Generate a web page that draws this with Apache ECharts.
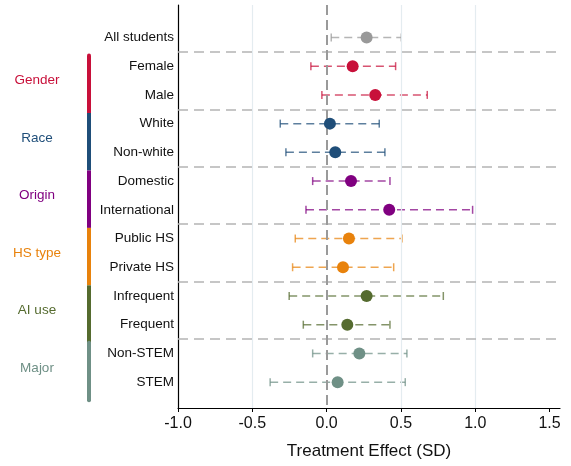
<!DOCTYPE html>
<html>
<head>
<meta charset="utf-8">
<script src="https://cdn.jsdelivr.net/npm/echarts@6/dist/echarts.min.js"></script>
<style>
  html, body { margin: 0; padding: 0; background: #ffffff; }
  #chart { width: 571px; height: 466px; }
</style>
</head>
<body>
<div id="chart"></div>
<script>
// Subgroup treatment effects (in SD units) with 95% confidence intervals
const categories = ['All students', 'Female', 'Male', 'White', 'Non-white', 'Domestic', 'International',
  'Public HS', 'Private HS', 'Infrequent', 'Frequent', 'Non-STEM', 'STEM'];
const estimates = [0.269, 0.175, 0.327, 0.022, 0.058, 0.164, 0.421, 0.150, 0.110, 0.269, 0.139, 0.220, 0.074];
const ciLow = [0.031, -0.106, -0.032, -0.312, -0.274, -0.094, -0.139, -0.211, -0.229, -0.252, -0.157, -0.094, -0.380];
const ciHigh = [0.502, 0.464, 0.677, 0.354, 0.392, 0.426, 0.982, 0.507, 0.451, 0.785, 0.426, 0.540, 0.529];
// group of each row; -1 marks the pooled estimate
const rowGroup = [-1, 0, 0, 1, 1, 2, 2, 3, 3, 4, 4, 5, 5];
const groupNames = ['Gender', 'Race', 'Origin', 'HS type', 'AI use', 'Major'];
const groupColors = ['#c8103a', '#1f4e79', '#800080', '#e8820c', '#556b2f', '#6f9086'];
const pooledColor = '#999999';
const xTicks = [-1.0, -0.5, 0.0, 0.5, 1.0, 1.5];
const gridLines = [-0.5, 0.5, 1.0];
const separators = [0.5, 2.5, 4.5, 6.5, 8.5, 10.5];

const FONT = '"Liberation Sans", Arial, Helvetica, sans-serif';

function rowColor(i) {
  return rowGroup[i] < 0 ? pooledColor : groupColors[rowGroup[i]];
}

// first and last row of every group
const groupSpans = groupNames.map((name, k) => {
  const rows = rowGroup.map((g, i) => (g === k ? i : -1)).filter(i => i >= 0);
  return [rows[0], rows[rows.length - 1], k];
});

const chart = echarts.init(document.getElementById('chart'), null, { renderer: 'canvas' });

const option = {
  animation: false,
  backgroundColor: '#ffffff',
  grid: { left: 178, right: 11, top: 5, bottom: 58, containLabel: false },
  xAxis: {
    type: 'value',
    min: -1.0,
    max: 1.57,
    splitLine: { show: false },
    axisLine: { show: true, onZero: false, lineStyle: { color: '#000', width: 1.2 } },
    axisTick: { show: true, customValues: xTicks, length: 4, lineStyle: { color: '#000', width: 1 } },
    axisLabel: {
      customValues: xTicks,
      formatter: v => v.toFixed(1),
      fontFamily: FONT, fontSize: 16, color: '#111', margin: 8
    },
    name: 'Treatment Effect (SD)',
    nameLocation: 'middle',
    nameGap: 35,
    nameTextStyle: { fontFamily: FONT, fontSize: 17, color: '#111' }
  },
  yAxis: {
    type: 'value',
    inverse: true,
    min: -1.13,
    max: 12.9,
    splitLine: { show: false },
    axisLine: { show: true, onZero: false, lineStyle: { color: '#000', width: 1.2 } },
    axisTick: { show: false },
    axisLabel: {
      customValues: categories.map((c, i) => i),
      formatter: v => categories[Math.round(v)] || '',
      fontFamily: FONT, fontSize: 13.5, color: '#111', margin: 4
    }
  },
  series: [
    {
      // reference lines: light grid, zero line, group separators
      type: 'scatter',
      data: [],
      silent: true,
      markLine: {
        silent: true,
        symbol: ['none', 'none'],
        label: { show: false },
        animation: false,
        data: [
          ...gridLines.map(x => ({ xAxis: x, lineStyle: { color: '#e4ecf0', width: 1.2, type: 'solid' } })),
          ...separators.map(y => ({ yAxis: y, lineStyle: { color: '#b4b4b4', width: 1.5, type: [10, 6] } })),
          { xAxis: 0, lineStyle: { color: '#9a9a9a', width: 2, type: [10, 5] } }
        ]
      }
    },
    {
      // confidence intervals with end caps
      type: 'custom',
      clip: false,
      data: categories.map((c, i) => [ciLow[i], ciHigh[i], i]),
      encode: { x: [0, 1], y: 2 },
      renderItem(params, api) {
        const i = api.value(2);
        const p1 = api.coord([api.value(0), i]);
        const p2 = api.coord([api.value(1), i]);
        const color = rowColor(i);
        const h = 4;
        const base = { stroke: color, lineWidth: 1.5, opacity: 0.72 };
        return {
          type: 'group',
          children: [
            { type: 'line', shape: { x1: p1[0], y1: p1[1], x2: p2[0], y2: p2[1] },
              style: Object.assign({}, base, { lineDash: [8, 5] }) },
            { type: 'line', shape: { x1: p1[0], y1: p1[1] - h, x2: p1[0], y2: p1[1] + h }, style: base },
            { type: 'line', shape: { x1: p2[0], y1: p2[1] - h, x2: p2[0], y2: p2[1] + h }, style: base }
          ]
        };
      }
    },
    {
      // point estimates
      type: 'scatter',
      symbol: 'circle',
      symbolSize: 12,
      data: estimates.map((v, i) => ({ value: [v, i], itemStyle: { color: rowColor(i), opacity: 1 } })),
      z: 5
    },
    {
      // coloured group brackets and group names left of the row labels
      type: 'custom',
      clip: false,
      data: groupSpans,
      encode: { y: [0, 1] },
      renderItem(params, api) {
        const first = api.value(0);
        const last = api.value(1);
        const k = api.value(2);
        const y1 = api.coord([-1, first - 0.37])[1];
        const y2 = api.coord([-1, last + 0.63])[1];
        const ym = api.coord([-1, (first + last) / 2])[1];
        const color = groupColors[k];
        const isEnd = k === 0 || k === groupNames.length - 1;
        return {
          type: 'group',
          children: [
            { type: 'line', shape: { x1: 89, y1: y1, x2: 89, y2: y2 },
              style: { stroke: color, lineWidth: 4, lineCap: isEnd ? 'round' : 'butt' } },
            { type: 'text', x: 37, y: ym,
              style: { text: groupNames[k], fill: color, font: '13.5px ' + FONT, align: 'center', verticalAlign: 'middle' } }
          ]
        };
      }
    }
  ]
};

chart.setOption(option);
</script>
</body>
</html>
